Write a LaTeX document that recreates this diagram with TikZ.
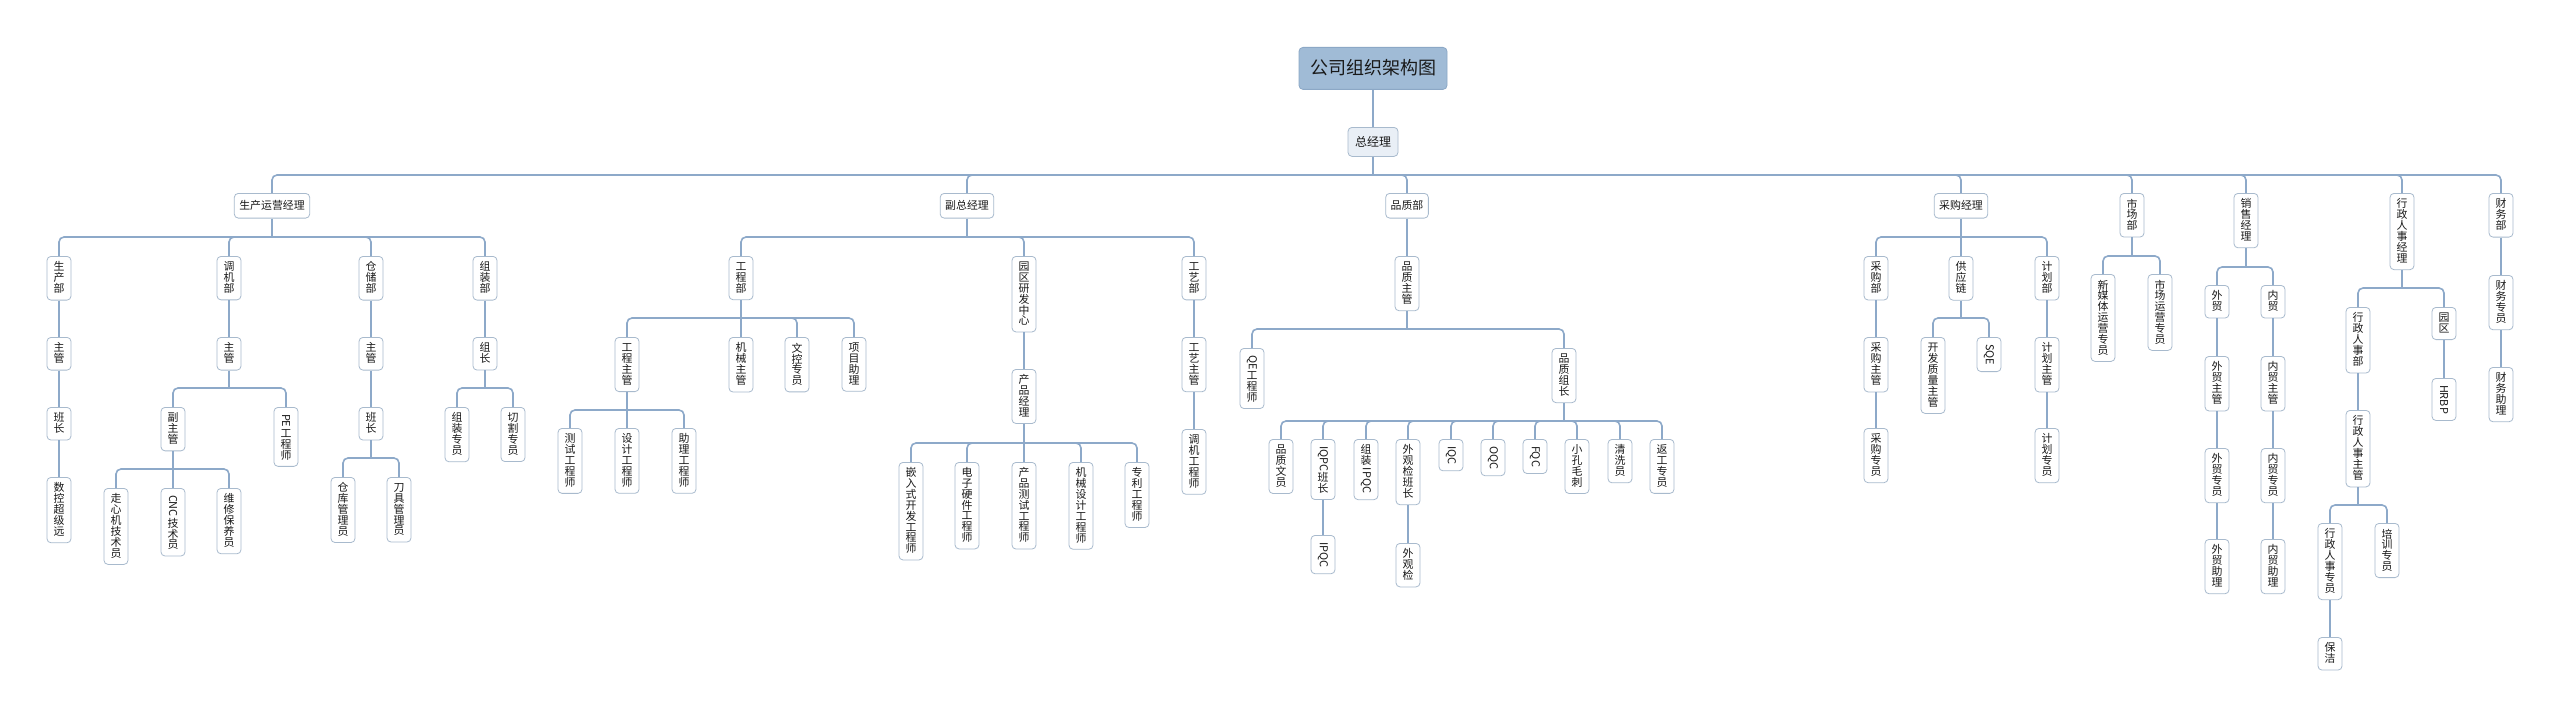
\documentclass[tikz,border=0pt]{standalone}
\usepackage{fontspec}
\usepackage{graphicx}
\setmainfont{Noto Sans CJK SC}
\definecolor{linec}{RGB}{141,169,201}
\definecolor{boxc}{RGB}{168,186,205}
\definecolor{titlef}{RGB}{160,187,214}
\definecolor{titleb}{RGB}{140,168,198}
\definecolor{gmf}{RGB}{233,239,246}
\definecolor{txt}{RGB}{25,25,25}
\newcommand\fs{\fontsize{10.9}{12}\selectfont}
\makeatletter
\let\vt@end\relax
\def\vt@endmark{\vt@end}
\newcommand\vtext[1]{\vbox{\offinterlineskip\vt@loop#1\vt@end}}
\def\vt@loop#1{\def\vt@arg{#1}\ifx\vt@arg\vt@endmark\else\vt@char{#1}\expandafter\vt@loop\fi}
\def\vt@char#1{\vt@check#1\vt@nil}
\def\vt@check#1#2\vt@nil{\if\relax\detokenize{#2}\relax\hbox to 12pt{\hss\vrule height 8.9pt depth 1.8pt width 0pt #1\hss}\else\kern1.2pt\hbox to 12pt{\hss\rotatebox{-90}{#1#2}\hss}\kern1.2pt\fi}
\makeatother
\newcommand\cstem[2]{\draw[conn] (#1.south) -- (#1.south |- 0,#2);}
\newcommand\cbr[3]{\draw[conn] (#1.south |- 0,#3) -| (#2.north);}
\newcommand\clink[2]{\draw[conn] (#1.south) -- (#2.north);}
\tikzset{
  conn/.style={draw=linec, line width=1.6pt, rounded corners=5pt},
  hb/.style={draw=boxc, fill=white, line width=0.8pt, rounded corners=4pt, inner xsep=5pt, inner ysep=7pt, text height=8.7pt, text depth=2pt, font=\fs, text=txt, anchor=north},
  vb/.style={draw=boxc, fill=white, line width=0.8pt, rounded corners=4pt, inner xsep=6pt, inner ysep=5.4pt, font=\fs, text=txt, anchor=north},
  titlebox/.style={draw=titleb, fill=titlef, line width=0.8pt, rounded corners=4pt, inner xsep=11pt, inner ysep=12pt, text height=15.5pt, text depth=2.5pt, font=\fontsize{18}{20}\selectfont, text=txt, anchor=north},
  gmbox/.style={draw=boxc, fill=gmf, line width=0.8pt, rounded corners=4pt, inner xsep=7pt, inner ysep=8.5pt, text height=10.3pt, text depth=1.7pt, font=\fontsize{12}{14}\selectfont, text=txt, anchor=north}
}
\begin{document}
\begin{tikzpicture}[x=1pt,y=-1pt]
\useasboundingbox (0,0) rectangle (2560,717);
\fill[white] (0,0) rectangle (2560,717);
% top
\node[titlebox] (T) at (1373,47) {公司组织架构图};
\node[gmbox] (GM) at (1373,127) {总经理};
% level 1
\node[hb] (A) at (272,193) {生产运营经理};
\node[hb] (B) at (967,193) {副总经理};
\node[hb] (C) at (1407,193) {品质部};
\node[hb] (D) at (1961,193) {采购经理};
\node[vb] (E) at (2132,193) {\vtext{市场部}};
\node[vb] (F) at (2246,193) {\vtext{销售经理}};
\node[vb] (G) at (2402,193) {\vtext{行政人事经理}};
\node[vb] (H) at (2501,193) {\vtext{财务部}};
% A
\node[vb] (A1) at (59,256) {\vtext{生产部}};
\node[vb] (A1a) at (59,337) {\vtext{主管}};
\node[vb] (A1b) at (59,407) {\vtext{班长}};
\node[vb] (A1c) at (59,477) {\vtext{数控超级远}};
\node[vb] (A2) at (229,256) {\vtext{调机部}};
\node[vb] (A2a) at (229,337) {\vtext{主管}};
\node[vb] (A2b) at (173,407) {\vtext{副主管}};
\node[vb] (A2c) at (286,407) {\vtext{{PE}工程师}};
\node[vb] (A2d) at (116,488) {\vtext{走心机技术员}};
\node[vb] (A2e) at (173,488) {\vtext{{CNC}技术员}};
\node[vb] (A2f) at (229,488) {\vtext{维修保养员}};
\node[vb] (A3) at (371,256) {\vtext{仓储部}};
\node[vb] (A3a) at (371,337) {\vtext{主管}};
\node[vb] (A3b) at (371,407) {\vtext{班长}};
\node[vb] (A3c) at (343,477) {\vtext{仓库管理员}};
\node[vb] (A3d) at (399,477) {\vtext{刀具管理员}};
\node[vb] (A4) at (485,256) {\vtext{组装部}};
\node[vb] (A4a) at (485,337) {\vtext{组长}};
\node[vb] (A4b) at (457,407) {\vtext{组装专员}};
\node[vb] (A4c) at (513,407) {\vtext{切割专员}};
% B
\node[vb] (B1) at (741,256) {\vtext{工程部}};
\node[vb] (B1a) at (627,337) {\vtext{工程主管}};
\node[vb] (B1b) at (741,337) {\vtext{机械主管}};
\node[vb] (B1c) at (797,337) {\vtext{文控专员}};
\node[vb] (B1d) at (854,337) {\vtext{项目助理}};
\node[vb] (B1e) at (570,428) {\vtext{测试工程师}};
\node[vb] (B1f) at (627,428) {\vtext{设计工程师}};
\node[vb] (B1g) at (684,428) {\vtext{助理工程师}};
\node[vb] (B2) at (1024,256) {\vtext{园区研发中心}};
\node[vb] (B2a) at (1024,369) {\vtext{产品经理}};
\node[vb] (B2b) at (911,462) {\vtext{嵌入式开发工程师}};
\node[vb] (B2c) at (967,462) {\vtext{电子硬件工程师}};
\node[vb] (B2d) at (1024,462) {\vtext{产品测试工程师}};
\node[vb] (B2e) at (1081,462) {\vtext{机械设计工程师}};
\node[vb] (B2f) at (1137,462) {\vtext{专利工程师}};
\node[vb] (B3) at (1194,256) {\vtext{工艺部}};
\node[vb] (B3a) at (1194,337) {\vtext{工艺主管}};
\node[vb] (B3b) at (1194,429) {\vtext{调机工程师}};
% C
\node[vb] (C1) at (1407,256) {\vtext{品质主管}};
\node[vb] (C2) at (1252,348) {\vtext{{QE}工程师}};
\node[vb] (C3) at (1564,348) {\vtext{品质组长}};
\node[vb] (C4) at (1281,439) {\vtext{品质文员}};
\node[vb] (C5) at (1323,439) {\vtext{{IQPC}班长}};
\node[vb] (C6) at (1366,439) {\vtext{组装{IPQC}}};
\node[vb] (C7) at (1408,439) {\vtext{外观检班长}};
\node[vb] (C8) at (1451,439) {\vtext{{IQC}}};
\node[vb] (C9) at (1493,439) {\vtext{{OQC}}};
\node[vb] (C10) at (1535,439) {\vtext{{FQC}}};
\node[vb] (C11) at (1577,439) {\vtext{小孔毛刺}};
\node[vb] (C12) at (1620,439) {\vtext{清洗员}};
\node[vb] (C13) at (1662,439) {\vtext{返工专员}};
\node[vb] (C14) at (1323,535) {\vtext{{IPQC}}};
\node[vb] (C15) at (1408,543) {\vtext{外观检}};
% D
\node[vb] (D1) at (1876,256) {\vtext{采购部}};
\node[vb] (D1a) at (1876,337) {\vtext{采购主管}};
\node[vb] (D1b) at (1876,428) {\vtext{采购专员}};
\node[vb] (D2) at (1961,256) {\vtext{供应链}};
\node[vb] (D2a) at (1933,337) {\vtext{开发质量主管}};
\node[vb] (D2b) at (1989,337) {\vtext{{SQE}}};
\node[vb] (D3) at (2047,256) {\vtext{计划部}};
\node[vb] (D3a) at (2047,337) {\vtext{计划主管}};
\node[vb] (D3b) at (2047,428) {\vtext{计划专员}};
% E
\node[vb] (E1) at (2103,274) {\vtext{新媒体运营专员}};
\node[vb] (E2) at (2160,274) {\vtext{市场运营专员}};
% F
\node[vb] (F1) at (2217,285) {\vtext{外贸}};
\node[vb] (F1a) at (2217,356) {\vtext{外贸主管}};
\node[vb] (F1b) at (2217,448) {\vtext{外贸专员}};
\node[vb] (F1c) at (2217,539) {\vtext{外贸助理}};
\node[vb] (F2) at (2273,285) {\vtext{内贸}};
\node[vb] (F2a) at (2273,356) {\vtext{内贸主管}};
\node[vb] (F2b) at (2273,448) {\vtext{内贸专员}};
\node[vb] (F2c) at (2273,539) {\vtext{内贸助理}};
% G
\node[vb] (G1) at (2358,307) {\vtext{行政人事部}};
\node[vb] (G1a) at (2358,410) {\vtext{行政人事主管}};
\node[vb] (G1b) at (2330,523) {\vtext{行政人事专员}};
\node[vb] (G1c) at (2387,523) {\vtext{培训专员}};
\node[vb] (G1d) at (2330,637) {\vtext{保洁}};
\node[vb] (G2) at (2444,307) {\vtext{园区}};
\node[vb] (G2a) at (2444,378) {\vtext{{HRBP}}};
% H
\node[vb] (H1) at (2501,275) {\vtext{财务专员}};
\node[vb] (H2) at (2501,367) {\vtext{财务助理}};

% connectors
\clink{T}{GM}
\cstem{GM}{175}
\foreach \n in {A,B,C,D,E,F,G,H} {\cbr{GM}{\n}{175}}
% A
\cstem{A}{237}
\foreach \n in {A1,A2,A3,A4} {\cbr{A}{\n}{237}}
\clink{A1}{A1a} \clink{A1a}{A1b} \clink{A1b}{A1c}
\clink{A2}{A2a}
\cstem{A2a}{388} \cbr{A2a}{A2b}{388} \cbr{A2a}{A2c}{388}
\cstem{A2b}{469} \cbr{A2b}{A2d}{469} \cbr{A2b}{A2e}{469} \cbr{A2b}{A2f}{469}
\clink{A3}{A3a} \clink{A3a}{A3b}
\cstem{A3b}{458} \cbr{A3b}{A3c}{458} \cbr{A3b}{A3d}{458}
\clink{A4}{A4a}
\cstem{A4a}{388} \cbr{A4a}{A4b}{388} \cbr{A4a}{A4c}{388}
% B
\cstem{B}{237}
\foreach \n in {B1,B2,B3} {\cbr{B}{\n}{237}}
\cstem{B1}{318}
\foreach \n in {B1a,B1b,B1c,B1d} {\cbr{B1}{\n}{318}}
\cstem{B1a}{410}
\foreach \n in {B1e,B1f,B1g} {\cbr{B1a}{\n}{410}}
\clink{B2}{B2a}
\cstem{B2a}{443}
\foreach \n in {B2b,B2c,B2d,B2e,B2f} {\cbr{B2a}{\n}{443}}
\clink{B3}{B3a} \clink{B3a}{B3b}
% C
\clink{C}{C1}
\cstem{C1}{329} \cbr{C1}{C2}{329} \cbr{C1}{C3}{329}
\cstem{C3}{421}
\foreach \n in {C4,C5,C6,C7,C8,C9,C10,C11,C12,C13} {\cbr{C3}{\n}{421}}
\clink{C5}{C14} \clink{C7}{C15}
% D
\cstem{D}{237}
\foreach \n in {D1,D2,D3} {\cbr{D}{\n}{237}}
\clink{D1}{D1a} \clink{D1a}{D1b}
\cstem{D2}{318} \cbr{D2}{D2a}{318} \cbr{D2}{D2b}{318}
\clink{D3}{D3a} \clink{D3a}{D3b}
% E
\cstem{E}{256} \cbr{E}{E1}{256} \cbr{E}{E2}{256}
% F
\cstem{F}{267} \cbr{F}{F1}{267} \cbr{F}{F2}{267}
\clink{F1}{F1a} \clink{F1a}{F1b} \clink{F1b}{F1c}
\clink{F2}{F2a} \clink{F2a}{F2b} \clink{F2b}{F2c}
% G
\cstem{G}{288} \cbr{G}{G1}{288} \cbr{G}{G2}{288}
\clink{G1}{G1a}
\cstem{G1a}{505} \cbr{G1a}{G1b}{505} \cbr{G1a}{G1c}{505}
\clink{G1b}{G1d}
\clink{G2}{G2a}
% H
\clink{H}{H1} \clink{H1}{H2}
\end{tikzpicture}
\end{document}
